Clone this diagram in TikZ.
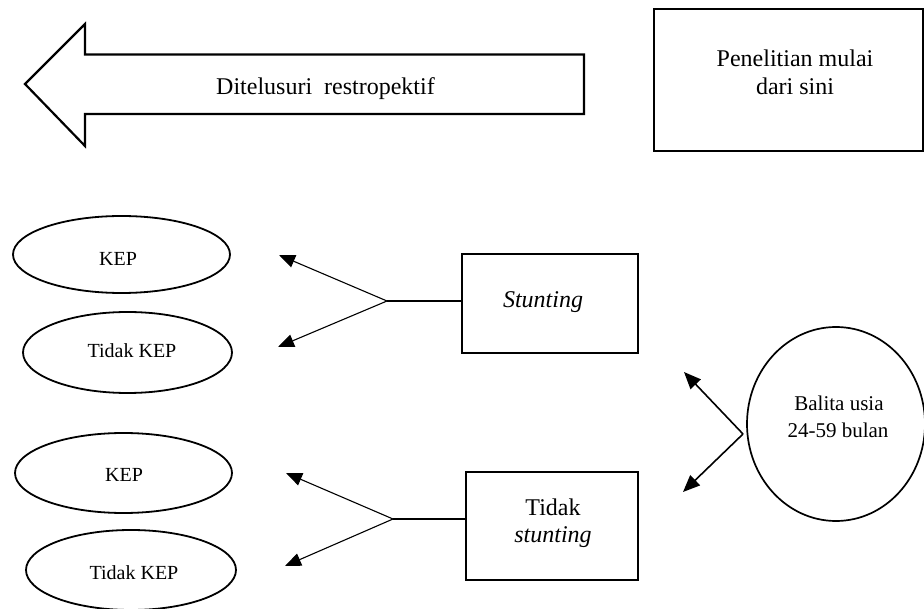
\documentclass[tikz,border=0pt]{standalone}
\usepackage{fontspec}
\setmainfont{Liberation Serif}
\usetikzlibrary{arrows.meta,shapes.geometric}
\begin{document}
\begin{tikzpicture}[x=1pt,y=-1pt,
  txtL/.style={font=\fontsize{24}{28}\selectfont, inner sep=0pt, anchor=base},
  txtM/.style={font=\fontsize{21}{27}\selectfont, inner sep=0pt, anchor=base},
  txtS/.style={font=\fontsize{20}{24}\selectfont, inner sep=0pt, anchor=base},
  rbox/.style={draw, line width=2.2pt, rectangle, inner sep=0pt},
  oval/.style={draw, ellipse, line width=1.8pt, inner sep=0pt},
  conn/.style={line width=1.1pt},
  arr/.style={conn, -{Triangle[length=16pt,width=13pt]}},
  arrB/.style={line width=1.6pt, -{Triangle[length=17pt,width=14pt]}}
]
\useasboundingbox (0,0) rectangle (924,609);

% big left arrow
\draw[line width=2.2pt, line join=miter] (25,84) -- (85,24) -- (85,54.5) -- (584,54.5) -- (584,114) -- (85,114) -- (85,146) -- cycle;
\node[txtL] (ditel) at (325.5,95) {Ditelusuri~~restropektif};

% start box
\node[rbox, minimum width=269, minimum height=142] (start) at (788.5,80) {};
\node[txtL] (pen1) at (795,67) {Penelitian mulai};
\node[txtL] (pen2) at (795,95) {dari sini};

% ellipses
\node[oval, minimum width=217, minimum height=77] (kep1) at (121.5,254.5) {};
\node[txtS] (kep1t) at (118,265.5) {KEP};
\node[oval, minimum width=209, minimum height=81] (tkep1) at (127.5,352.5) {};
\node[txtS] (tkep1t) at (132,358) {Tidak KEP};
\node[oval, minimum width=217, minimum height=80] (kep2) at (123.5,473) {};
\node[txtS] (kep2t) at (124,481.7) {KEP};
\node[oval, minimum width=210, minimum height=80] (tkep2) at (131,570) {};
\node[txtS] (tkep2t) at (134,579) {Tidak KEP};

% stunting boxes
\node[rbox, minimum width=176, minimum height=99] (st) at (550,303.5) {};
\node[txtL] (stt) at (543,308) {\itshape Stunting};
\node[rbox, minimum width=172, minimum height=108] (nst) at (552,526) {};
\node[txtL] (nst1) at (553,515) {Tidak};
\node[txtL] (nst2) at (553,542) {\itshape stunting};

% circle
\node[draw, ellipse, line width=1.7pt, minimum width=178, minimum height=194, inner sep=0pt] (bal) at (836,424) {};
\node[txtM] (bal1) at (839,411) {Balita usia};
\node[txtM] (bal2) at (838,438) {24-59 bulan};

% connectors
\coordinate (j1) at (387,301);
\coordinate (a1) at (279,255);
\coordinate (b1) at (278,347);
\draw[conn] (st.west |- j1) -- (j1);
\draw[arr] (j1) -- (a1);
\draw[arr] (j1) -- (b1);

\coordinate (j2) at (393,519);
\coordinate (a2) at (286,473);
\coordinate (b2) at (285,566);
\draw[conn] (nst.west |- j2) -- (j2);
\draw[arr] (j2) -- (a2);
\draw[arr] (j2) -- (b2);

\coordinate (j3) at (743,434);
\coordinate (a3) at (684,372);
\coordinate (b3) at (683,492);
\draw[arrB] (j3) -- (a3);
\draw[arrB] (j3) -- (b3);
\end{tikzpicture}
\end{document}
